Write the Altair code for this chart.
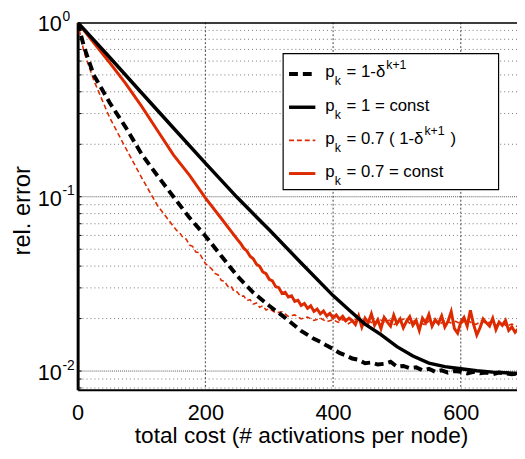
import altair as alt
import pandas as pd

FONT = "Liberation Sans"
RED = "#dd2a00"

# ---- data (x = total cost, y = rel. error) ----
# p_k = 1 = const (black solid)
bs_x = [0, 50, 100, 150, 200, 250, 300, 350, 400, 425, 450, 475, 500, 525, 550, 575, 600, 625, 650, 690]
bs_y = [1.0, 0.631, 0.395, 0.248, 0.156, 0.0989, 0.0646, 0.0417, 0.0271, 0.0224, 0.0186, 0.0162,
        0.0138, 0.0122, 0.0111, 0.0106, 0.0103, 0.01005, 0.00986, 0.00968]

# p_k = 1 - delta^(k+1) (black dashed)
bd_x = [0, 10, 25, 50, 75, 100, 125, 150, 175, 200, 225, 250, 275, 300, 325, 350, 370] + list(range(380, 691, 10))
bd_y = [1.0, 0.724, 0.501, 0.347, 0.251, 0.176, 0.132, 0.100, 0.0759, 0.0596, 0.0457, 0.0351, 0.0282,
        0.0237, 0.0202, 0.0170, 0.0153,
        0.0147, 0.0140, 0.0134, 0.0127, 0.0123, 0.0118, 0.0116, 0.0111, 0.0112, 0.0109,
        0.0110, 0.0113, 0.0106, 0.0107, 0.0104, 0.0105, 0.0101, 0.0103, 0.0099, 0.0101,
        0.0098, 0.0100, 0.0099, 0.0097, 0.0099, 0.0097, 0.0098, 0.0096, 0.0098, 0.0097,
        0.0096, 0.0097]

# p_k = 0.7 (1 - delta^(k+1)) (thin red dashed)
rd_x = [0, 10, 25, 50, 75, 100, 125] + list(range(150, 301, 5)) + list(range(310, 401, 10)) + list(range(408, 689, 8))
rd_y = [1.0, 0.676, 0.468, 0.285, 0.191, 0.129, 0.0891,
        0.0676, 0.0641, 0.0619, 0.0583, 0.0571, 0.0528, 0.0519, 0.0482, 0.0479, 0.0445,
        0.0414, 0.0399, 0.0385, 0.0363, 0.0356, 0.0331, 0.0328, 0.0306, 0.0308, 0.0286,
        0.0284, 0.0268, 0.0270, 0.0254, 0.0257, 0.0242, 0.0246, 0.0232, 0.0237, 0.0224, 0.0228,
        0.0216, 0.0219, 0.0206, 0.0210, 0.0199, 0.0204, 0.0195, 0.0201, 0.0192, 0.0197,
        0.0190, 0.0198, 0.0187, 0.0195, 0.0201, 0.0189, 0.0194, 0.0186, 0.0199, 0.0191,
        0.0196, 0.0185, 0.0193, 0.0200, 0.0188, 0.0195, 0.0190, 0.0184, 0.0197, 0.0191,
        0.0187, 0.0196, 0.0189, 0.0193, 0.0186, 0.0198, 0.0190, 0.0185, 0.0194, 0.0188,
        0.0192, 0.0183, 0.0189, 0.0181, 0.0186, 0.0180]

# p_k = 0.7 = const (red solid)
rs_x = [0, 25, 50, 75, 100, 125, 150, 175, 200, 225, 250] + list(range(255, 426, 5)) + list(range(430, 691, 5))
rs_y = [1.0, 0.767, 0.589, 0.447, 0.331, 0.240, 0.174, 0.133, 0.0986, 0.0750, 0.0569,
        0.0541, 0.0507, 0.0489, 0.0456, 0.0441, 0.0410, 0.0399, 0.0370, 0.0362, 0.0336,
        0.0329, 0.0305, 0.0301, 0.0279, 0.0283, 0.0266, 0.0270, 0.0251, 0.0255, 0.0238,
        0.0244, 0.0229, 0.0237, 0.0220, 0.0227, 0.0213, 0.0221, 0.0207, 0.0214, 0.0202,
        0.0210, 0.0198, 0.0206, 0.0194, 0.0201,
        0.0195, 0.0185, 0.0207, 0.0179, 0.0201, 0.0189, 0.0213, 0.0183, 0.0197, 0.0175,
        0.0203, 0.0191, 0.0181, 0.0209, 0.0187, 0.0199, 0.0177, 0.0193, 0.0205, 0.0183,
        0.0195, 0.0171, 0.0201, 0.0189, 0.0211, 0.0181, 0.0197, 0.0187, 0.0207, 0.0179,
        0.0193, 0.0219, 0.0175, 0.0165, 0.0191, 0.0203, 0.0181, 0.0223, 0.0185, 0.0161,
        0.0177, 0.0199, 0.0189, 0.0181, 0.0201, 0.0173, 0.0191, 0.0183, 0.0195, 0.0171,
        0.0179, 0.0167, 0.0175]

# axes / grid values
x_ticks = [0, 200, 400, 600]
y_decades = [1.0, 0.1, 0.01]
y_exponents = ["0", "-1", "-2"]
y_major_grid = [0.1, 0.01]
y_minor_grid = [0.008, 0.009, 0.02, 0.03, 0.04, 0.05, 0.06, 0.07, 0.08, 0.09,
                0.2, 0.3, 0.4, 0.5, 0.6, 0.7, 0.8, 0.9]
x_grid = [200, 400, 600]

W, H = 446, 373
xs = alt.Scale(domain=[0, 688], nice=False, zero=False)
ys = alt.Scale(type="log", domain=[0.0078, 1], nice=False)

XAXIS = alt.Axis(
    values=x_ticks, grid=False, ticks=False, domainColor="black", domainWidth=2,
    labelFontSize=22, labelColor="black", labelPadding=13, labelFlush=False, labelFont=FONT,
    title="total cost (# activations per node)", titleFontSize=23, titleFont=FONT,
    titleFontWeight="normal", titleColor="black", titleX=226.8, titleY=53,
    titleBaseline="alphabetic")
YAXIS = alt.Axis(
    labels=False, ticks=False, grid=False, domainColor="black", domainWidth=3,
    title="rel. error", titleFontSize=24, titleFont=FONT, titleFontWeight="normal",
    titleColor="black", titleAngle=-90, titleX=-48.7, titleY=190.7,
    titleBaseline="alphabetic", titleAlign="center")


def series(xv, yv):
    return pd.DataFrame({"x": xv, "y": yv})


def X():
    return alt.X("x:Q", scale=xs, axis=XAXIS)


def Y():
    return alt.Y("y:Q", scale=ys, axis=YAXIS)


# gridlines
minor_grid = alt.Chart(pd.DataFrame({"y": y_minor_grid})).mark_rule(
    color="#777", strokeWidth=1, strokeDash=[1, 3]).encode(y=Y())
major_grid = alt.Chart(pd.DataFrame({"y": y_major_grid})).mark_rule(
    color="#555", strokeWidth=1, strokeDash=[1, 1]).encode(y=Y())
vgrid = alt.Chart(pd.DataFrame({"x": x_grid})).mark_rule(
    color="#444", strokeWidth=1, strokeDash=[2, 2]).encode(x=X())
ticks_y = alt.Chart(pd.DataFrame({"y": y_minor_grid + y_major_grid})).mark_rule(
    color="black", strokeWidth=1).encode(y=Y(), x=alt.value(0), x2=alt.value(4))

top_border = alt.Chart(pd.DataFrame({"a": [0]})).mark_rule(color="black", strokeWidth=1.5).encode(
    y=alt.value(0.5), x=alt.value(0), x2=alt.value(W))

# y tick labels 10^n
dec_df = pd.DataFrame({"y": y_decades, "base": ["10"] * 3, "exp": y_exponents})
lab10 = alt.Chart(dec_df).mark_text(align="right", baseline="alphabetic", dy=9, fontSize=22,
                                    font=FONT, color="black").encode(
    y=Y(), x=alt.value(-16), text="base:N")
labexp = alt.Chart(dec_df).mark_text(align="left", baseline="alphabetic", dy=-1.5, fontSize=14,
                                     font=FONT, color="black").encode(
    y=Y(), x=alt.value(-15.5), text="exp:N")

# curves
red_solid = alt.Chart(series(rs_x, rs_y)).mark_line(color=RED, strokeWidth=3, clip=True).encode(
    x=X(), y=Y(), order="x:Q")
red_dashed = alt.Chart(series(rd_x, rd_y)).mark_line(color=RED, strokeWidth=1.6, strokeDash=[5, 3],
                                                      clip=True).encode(x=X(), y=Y(), order="x:Q")
black_solid = alt.Chart(series(bs_x, bs_y)).mark_line(color="black", strokeWidth=3.5, clip=True).encode(
    x=X(), y=Y(), order="x:Q")
black_dashed = alt.Chart(series(bd_x, bd_y)).mark_line(color="black", strokeWidth=4, strokeDash=[9, 5],
                                                        clip=True).encode(x=X(), y=Y(), order="x:Q")

# legend (drawn manually, pixel positions relative to the plot area)
one = pd.DataFrame({"a": [0]})
legend_box = alt.Chart(one).mark_rect(fill="white", stroke="black", strokeWidth=1.2).encode(
    x=alt.value(208.6), x2=alt.value(427.3), y=alt.value(31.7), y2=alt.value(169.7))

row_y = [52.4, 86.1, 119.7, 153.4]
leg_styles = [
    dict(color="black", strokeWidth=4, strokeDash=[9, 5]),
    dict(color="black", strokeWidth=3.5),
    dict(color=RED, strokeWidth=1.6, strokeDash=[5, 3]),
    dict(color=RED, strokeWidth=3),
]
leg_lines = [
    alt.Chart(one).mark_rule(**st).encode(x=alt.value(214.6), x2=alt.value(241.3),
                                          y=alt.value(ry), y2=alt.value(ry))
    for st, ry in zip(leg_styles, row_y)
]

row_rest = ["= 1-δ", "= 1 = const", "= 0.7 ( 1-δ", "= 0.7 = const"]
FS, FSS = 17, 12.5
pieces = []
for i, ry in enumerate(row_y):
    base = ry + 3.5
    pieces.append(("p", 251.3, base, FS))
    pieces.append(("k", 261.0, base + 8, FSS))
    pieces.append((row_rest[i], 273.0, base, FS))
pieces.append(("k+1", 313.3, row_y[0] + 3.5 - 9, FSS))
pieces.append(("k+1", 352.0, row_y[2] + 3.5 - 9, FSS))
pieces.append((")", 378.5, row_y[2] + 3.5, FS))

leg_texts = [
    alt.Chart(one).mark_text(align="left", baseline="alphabetic", font=FONT, fontSize=fs,
                             color="black").encode(x=alt.value(px), y=alt.value(py), text=alt.value(t))
    for (t, px, py, fs) in pieces
]

chart = alt.layer(
    minor_grid, major_grid, vgrid, ticks_y,
    red_solid, red_dashed, black_solid, black_dashed,
    top_border, lab10, labexp,
    legend_box, *leg_lines, *leg_texts,
).properties(
    width=W, height=H,
    autosize=alt.AutoSizeParams(type="none"),
    padding={"left": 70.7, "top": 11.3, "right": 0, "bottom": 58},
).configure_view(stroke=None).configure(font=FONT)

chart.save("out.html", embed_options={"renderer": "svg", "actions": False})
